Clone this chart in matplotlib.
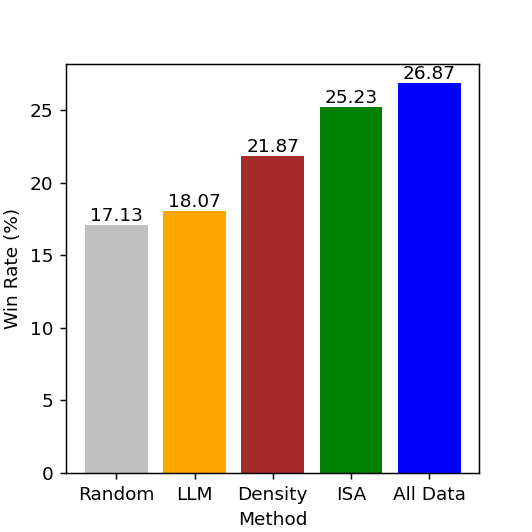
import matplotlib
matplotlib.use("Agg")
import matplotlib.pyplot as plt

methods = ["Random", "LLM", "Density", "ISA", "All Data"]
win_rates = [17.13, 18.07, 21.87, 25.23, 26.87]
colors = ["silver", "orange", "brown", "green", "blue"]

s = 1.33
plt.rcParams.update({
    "font.size": 10 * s,
    "axes.linewidth": 0.8 * s,
    "xtick.major.size": 3.5 * s,
    "ytick.major.size": 3.5 * s,
    "xtick.major.width": 0.8 * s,
    "ytick.major.width": 0.8 * s,
    "xtick.major.pad": 3.5 * s,
    "ytick.major.pad": 3.5 * s,
    "axes.labelpad": 4.0 * s,
})

fig = plt.figure(figsize=(5.32, 5.32), dpi=100)
ax = fig.add_axes([0.1245, 0.111, 0.7765, 0.769])
bars = ax.bar(methods, win_rates, color=colors, width=0.8)
for b, v in zip(bars, win_rates):
    ax.text(b.get_x() + b.get_width() / 2, v, f"{v:.2f}", ha="center", va="bottom")
ax.set_xlabel("Method")
ax.set_ylabel("Win Rate (%)")
fig.savefig("out.png", dpi=100)
